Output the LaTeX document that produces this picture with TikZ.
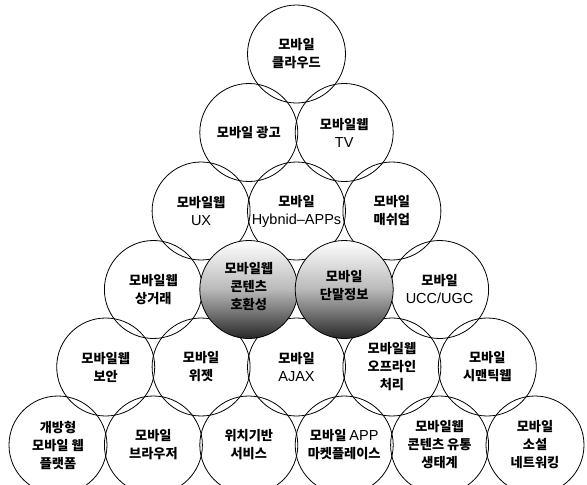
\documentclass[tikz,border=0pt]{standalone}
\usepackage{fontspec}
\newfontfamily\kr{Noto Sans CJK KR}
\newfontfamily\lat{Liberation Sans}
\newcommand{\la}[1]{{\lat\mdseries\fontsize{14.5}{18}\selectfont #1}}
\begin{document}
\begin{tikzpicture}[x=1pt,y=-1pt,
  circ/.style={circle, draw=black, line width=0.8pt, minimum size=98pt, inner sep=0pt,
    align=center, font=\kr\bfseries\fontsize{13.2}{18}\selectfont},
  shade/.style={circ, top color=white, bottom color=black!85, middle color=gray!55},
  lbl/.style={align=center, inner sep=0pt, font=\kr\bfseries\fontsize{13.2}{18}\selectfont}]
\useasboundingbox (0,0) rectangle (587,485);
\fill[white] (0,0) rectangle (587,485);
% row 1
\node[circ] (a1) at (296.5,54) {모바일\\클라우드};
% row 2
\node[circ] (b1) at (248.8,132.5) {모바일 광고};
\node[circ] (b2) at (344.2,132.5) {모바일웹\\\la{TV}};
% row 3
\node[circ] (c1) at (201.1,211) {모바일웹\\\la{UX}};
\node[circ] (c2) at (296.5,211) {모바일\\\la{Hybnid–APPs}};
\node[circ] (c3) at (391.9,211) {모바일\\매쉬업};
% row 4
\node[circ] (d1) at (153.4,289.5) {모바일웹\\상거래};
\node[circ] (d4) at (439.6,289.5) {모바일\\\la{UCC/UGC}};
% row 5
\node[circ] (e1) at (105.7,367) {모바일웹\\보안};
\node[circ] (e2) at (201.1,367) {모바일\\위젯};
\node[circ] (e3) at (296.5,367) {모바일\\\la{AJAX}};
\node[circ] (e4) at (391.9,367) {모바일웹\\오프라인\\처리};
\node[circ] (e5) at (487.3,367) {모바일\\시맨틱웹};
% row 6
\node[circ] (f1) at (58,445) {개방형\\모바일 웹\\플랫폼};
\node[circ] (f2) at (153.4,445) {모바일\\브라우저};
\node[circ] (f3) at (248.8,445) {위치기반\\서비스};
\node[circ] (f4) at (344.2,445) {모바일 \la{APP}\\마켓플레이스};
\node[circ] (f5) at (439.6,445) {모바일웹\\콘텐츠 유통\\생태계};
\node[circ] (f6) at (535,445) {모바일\\소설\\네트워킹};
% shaded circles of row 4
\node[shade] (d2) at (248.8,289.5) {};
\node[shade] (d3) at (344.2,289.5) {};
\node[lbl] (t2) at (248.8,287) {모바일웹\\콘텐츠\\호환성};
\node[lbl] (t3) at (344.2,286) {모바일\\단말정보};
\end{tikzpicture}
\end{document}
